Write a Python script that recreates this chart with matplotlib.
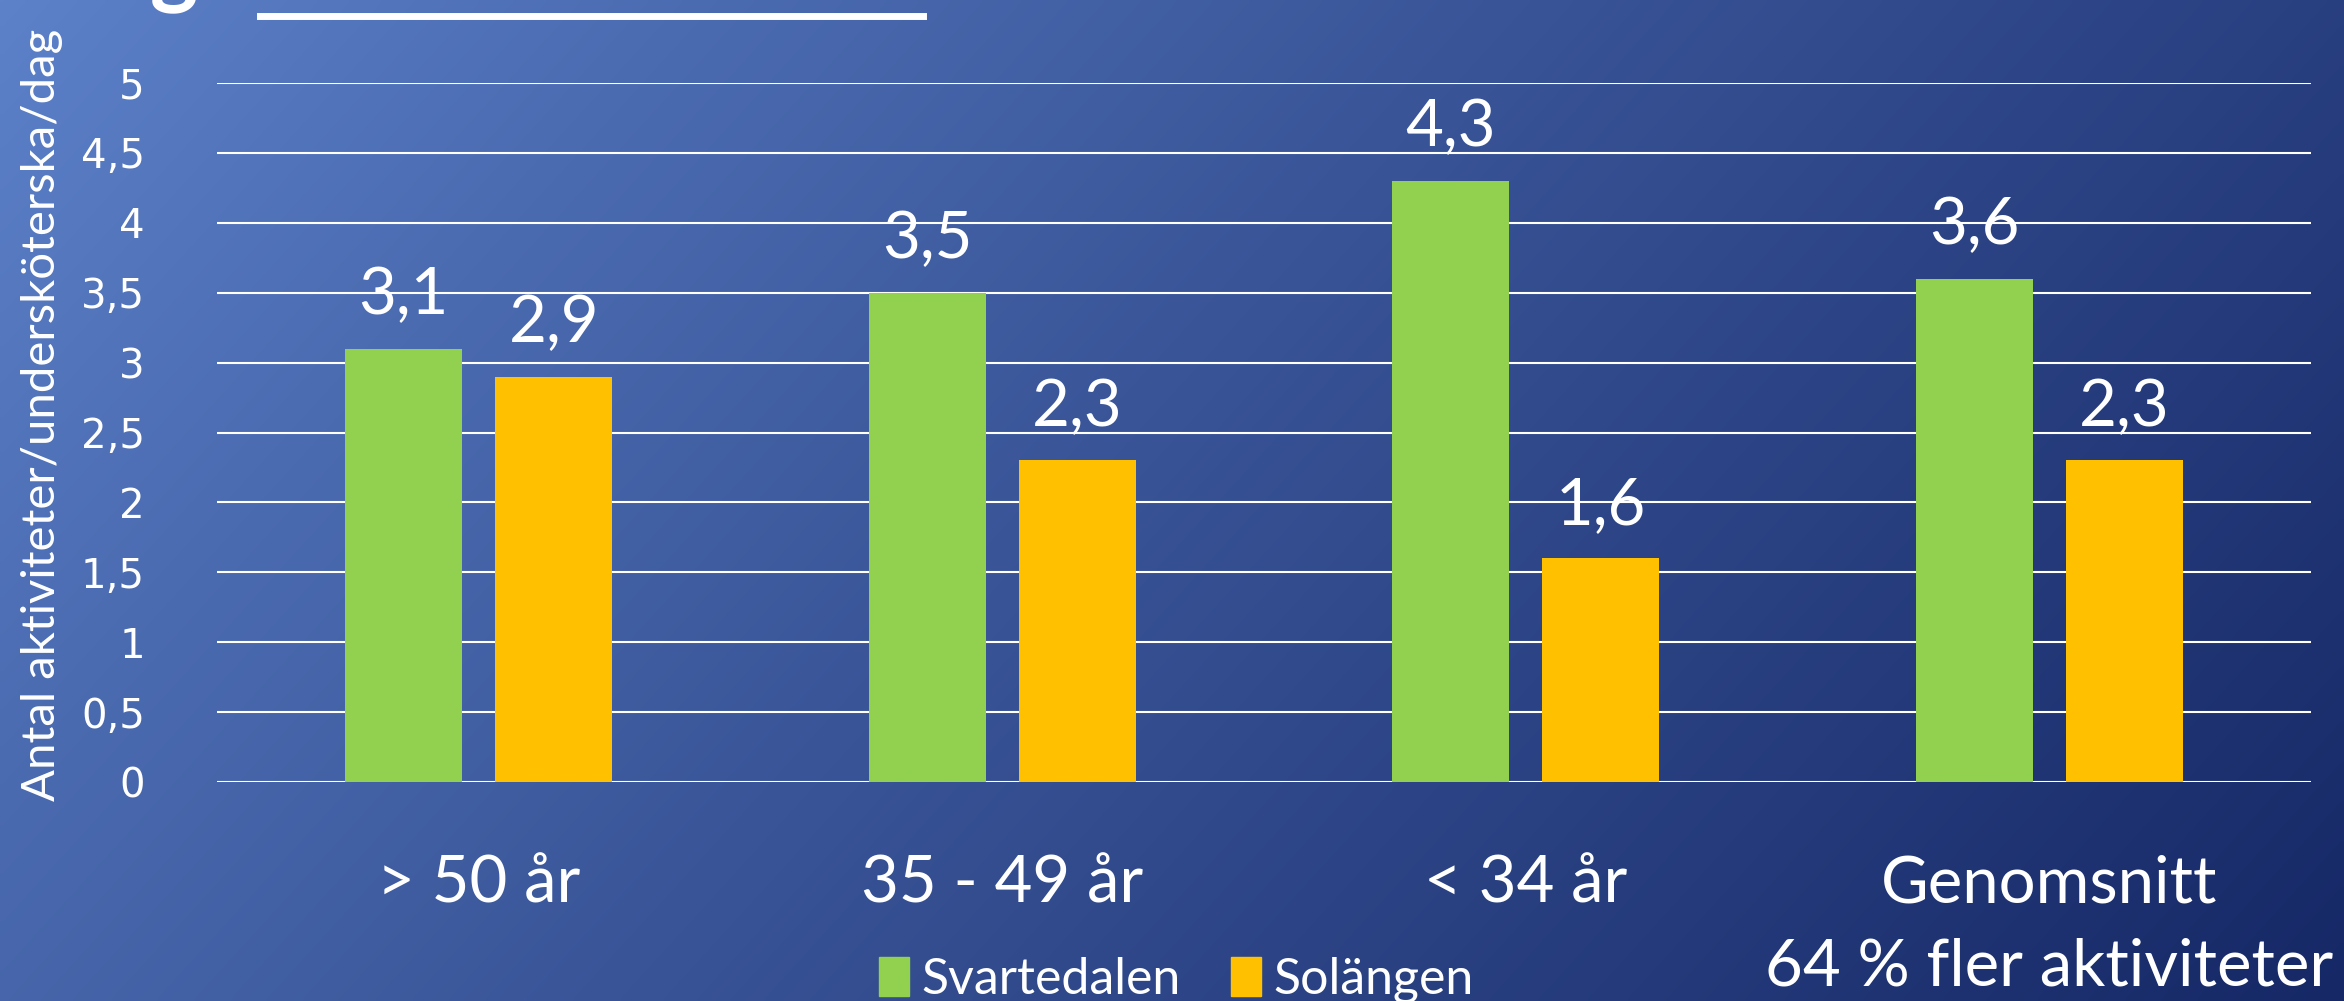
import numpy as np
import matplotlib
matplotlib.use("Agg")
import matplotlib.pyplot as plt
from matplotlib.lines import Line2D
from matplotlib.patches import Patch

# ---- data ----
categories = ["> 50 år", "35 - 49 år", "< 34 år", "Genomsnitt\n64 % fler aktiviteter"]
svartedalen = [3.1, 3.5, 4.3, 3.6]
solangen = [2.9, 2.3, 1.6, 2.3]
series_names = ["Svartedalen", "Solängen"]
y_ticks = [0, 0.5, 1, 1.5, 2, 2.5, 3, 3.5, 4, 4.5, 5]
y_label = "Antal aktiviteter/undersköterska/dag"

GREEN = "#92D050"
ORANGE = "#FFC000"
TXT = ["Lato", "DejaVu Sans"]

def fmt(v):
    s = f"{v:g}"
    return s.replace(".", ",")

W, H = 2344, 1001
fig = plt.figure(figsize=(W / 100, H / 100), dpi=100)

# background gradient
bg = fig.add_axes([0, 0, 1, 1], zorder=-10)
xx, yy = np.meshgrid(np.linspace(0, 1, 400), np.linspace(0, 1, 200))
t = 0.72 * xx + 0.28 * yy
t = t ** 0.9
c0 = np.array([93, 130, 202]) / 255
c1 = np.array([22, 40, 102]) / 255
img = c0[None, None, :] * (1 - t[..., None]) + c1[None, None, :] * t[..., None]
bg.imshow(img, aspect="auto", extent=[0, 1, 1, 0], interpolation="bilinear")
bg.set_xlim(0, 1); bg.set_ylim(1, 0)
bg.axis("off")

ax = fig.add_axes([217 / W, 1 - 782 / H, (2311 - 217) / W, (782 - 83) / H])
ax.patch.set_alpha(0)

x = np.arange(len(categories))
bw = 0.2235
off = 0.1435
b1 = ax.bar(x - off, svartedalen, bw, color=GREEN, zorder=3, label=series_names[0])
b2 = ax.bar(x + off, solangen, bw, color=ORANGE, zorder=3, label=series_names[1])

for bars, vals in ((b1, svartedalen), (b2, solangen)):
    for r, v in zip(bars, vals):
        ax.annotate(fmt(v), (r.get_x() + r.get_width() / 2, v), xytext=(0, 17),
                    textcoords="offset points", ha="center", va="bottom",
                    color="white", fontsize=47, family=TXT, zorder=4)

ax.set_xlim(-0.5, len(categories) - 0.5)
ax.set_ylim(0, 5)
ax.set_yticks(y_ticks)
ax.set_yticklabels([fmt(v) for v in y_ticks], family="DejaVu Sans", fontsize=29, color="white")
ax.set_xticks(x)
ax.set_xticklabels(categories, family=TXT, fontsize=47, color="white", linespacing=1.5)
ax.tick_params(axis="x", length=0, pad=52)
ax.tick_params(axis="y", length=0, pad=52)
ax.yaxis.grid(True, color="white", linewidth=1.5, zorder=1)
ax.set_axisbelow(True)
for s in ax.spines.values():
    s.set_visible(False)

fig.text(42 / W, 1 - 415 / H, y_label, rotation=90, ha="center", va="center",
         color="white", fontsize=34, family=TXT)

# legend
handles = [Patch(color=GREEN), Patch(color=ORANGE)]
fig.legend(handles, series_names, loc="center", bbox_to_anchor=(1176 / W, 1 - 980 / H),
           ncol=2, frameon=False, handlelength=0.6, handleheight=0.8,
           handletextpad=0.25, columnspacing=1.0, borderpad=0,
           prop={"family": TXT, "size": 36}, labelcolor="white")

# title remnant and underline
fig.text(150 / W, 1 + 4 / H, "g", ha="left", va="baseline", color="white",
         fontsize=66, fontweight="bold", family=TXT)
fig.add_artist(Line2D([260 / W, 923 / W], [1 - 15.5 / H, 1 - 15.5 / H],
                      transform=fig.transFigure, color="white", linewidth=5))

fig.savefig("out.png", dpi=100)
